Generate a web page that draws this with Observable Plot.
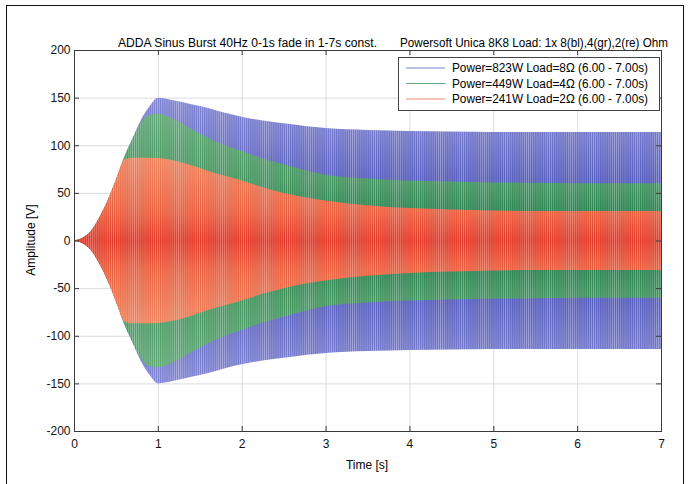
<!DOCTYPE html>
<html><head><meta charset="utf-8">
<script src="https://cdn.jsdelivr.net/npm/d3@7"></script>
<script src="https://cdn.jsdelivr.net/npm/@observablehq/plot@0.6"></script>
<style>
body{margin:0;background:#fff;font-family:"Liberation Sans",Arial,sans-serif;}
#wrap{position:relative;width:691px;height:484px;overflow:hidden;background:#fff;}
#border{position:absolute;left:6px;top:5px;width:676px;height:500px;border:1.5px solid #111;}
#chart{position:absolute;left:0;top:0;}
.ov{position:absolute;left:0;top:0;}
</style></head><body>
<svg width="0" height="0" style="position:absolute">
  <defs>
    <linearGradient id="gb" gradientUnits="userSpaceOnUse" x1="0" y1="0" x2="0" y2="484">
      <stop offset="0.20" stop-color="#8387d4"/>
      <stop offset="0.28" stop-color="#7277ca"/>
      <stop offset="0.38" stop-color="#555bbc"/>
      <stop offset="0.61" stop-color="#555bbc"/>
      <stop offset="0.715" stop-color="#7277ca"/>
      <stop offset="0.79" stop-color="#8387d4"/>
    </linearGradient>
    <linearGradient id="gg" gradientUnits="userSpaceOnUse" x1="0" y1="0" x2="0" y2="484">
      <stop offset="0.24" stop-color="#62a977"/>
      <stop offset="0.378" stop-color="#44955f"/>
      <stop offset="0.436" stop-color="#2b8453"/>
      <stop offset="0.558" stop-color="#2b8453"/>
      <stop offset="0.616" stop-color="#44955f"/>
      <stop offset="0.756" stop-color="#62a977"/>
    </linearGradient>
    <linearGradient id="gr" gradientUnits="userSpaceOnUse" x1="0" y1="0" x2="0" y2="484">
      <stop offset="0.32" stop-color="#ee8862"/>
      <stop offset="0.436" stop-color="#eb6343"/>
      <stop offset="0.497" stop-color="#e43c2b"/>
      <stop offset="0.558" stop-color="#eb6343"/>
      <stop offset="0.674" stop-color="#ee8862"/>
    </linearGradient>
    <pattern id="pb" patternUnits="userSpaceOnUse" patternContentUnits="userSpaceOnUse" width="2.096" height="484">
      <rect width="2.096" height="484" fill="url(#gb)"/>
      <rect width="0.7" height="484" fill="#fff" fill-opacity="0.35"/>
    </pattern>
    <pattern id="pg" patternUnits="userSpaceOnUse" patternContentUnits="userSpaceOnUse" width="2.096" height="484">
      <rect width="2.096" height="484" fill="url(#gg)"/>
      <rect width="0.7" height="484" fill="#fff" fill-opacity="0.33"/>
    </pattern>
    <pattern id="pr" patternUnits="userSpaceOnUse" patternContentUnits="userSpaceOnUse" width="2.096" height="484">
      <rect width="2.096" height="484" fill="url(#gr)"/>
      <rect width="0.7" height="484" fill="#fff" fill-opacity="0.28"/>
    </pattern>
  </defs>
</svg>
<div id="wrap">
  <div id="border"></div>
  <div id="chart"></div>
  <svg class="ov" width="691" height="484" id="over"></svg>
</div>
<script>
// Envelope (peak amplitude, V)
const times    = [0, 0.1, 0.2, 0.3, 0.4, 0.5, 0.6, 0.7, 0.8, 0.9, 1.0, 1.2, 1.4, 1.6, 1.8, 2.0, 2.25, 2.5, 3.0, 3.5, 4.0, 4.5, 5.0, 5.5, 6.0, 6.5, 7.0];
const blueEnv  = [0, 3, 10, 24, 42, 64, 88, 108, 127, 141, 150, 147, 143, 139, 134, 130, 126, 123, 118, 116, 115, 114.5, 114, 114, 114, 114, 114];
const greenEnv = [0, 3, 10, 24, 42, 64, 88, 107, 124, 132, 133, 127, 117, 108, 100, 94, 86, 80, 69, 65, 63, 62, 61, 60.5, 60, 60, 60];
const redEnv   = [0, 3, 10, 24, 42, 64, 85, 87, 87, 87, 86.5, 84, 79, 73, 68, 63, 56, 50, 42, 37, 34, 32.5, 31.5, 31, 31, 31, 31];

const xTicks = [0, 1, 2, 3, 4, 5, 6, 7];
const yTicks = [-200, -150, -100, -50, 0, 50, 100, 150, 200];

const seriesNames = ["Power=823W Load=8\u03A9 (6.00 - 7.00s)", "Power=449W Load=4\u03A9 (6.00 - 7.00s)", "Power=241W Load=2\u03A9 (6.00 - 7.00s)"];
const seriesLine  = ["#7f82cc", "#6aa877", "#ee8a6c"];
const titleLeft  = "ADDA Sinus Burst 40Hz 0-1s fade in 1-7s const.";
const titleRight = "Powersoft Unica 8K8 Load: 1x 8(bl),4(gr),2(re) Ohm";

const rows = env => times.map((t, i) => ({t, lo: -env[i], hi: env[i]}));

const W = 691, H = 484, mL = 74, mR = 30, mT = 50, mB = 53;
const innerW = W - mL - mR, innerH = H - mT - mB;
const axisCol = "#3a3a3a";

const chart = Plot.plot({
  width: W, height: H,
  marginLeft: mL, marginRight: mR, marginTop: mT, marginBottom: mB,
  style: {fontFamily: "'Liberation Sans', Arial, sans-serif", fontSize: "12px", color: "#111", background: "transparent"},
  x: {domain: [0, 7]},
  y: {domain: [-200, 200]},
  marks: [
    Plot.gridX(xTicks, {stroke: "#dcdcdc", strokeOpacity: 1}),
    Plot.gridY(yTicks, {stroke: "#dcdcdc", strokeOpacity: 1}),
    Plot.areaY(rows(blueEnv),  {x: "t", y1: "lo", y2: "hi", fill: "url(#pb)", curve: "monotone-x"}),
    Plot.areaY(rows(greenEnv), {x: "t", y1: "lo", y2: "hi", fill: "url(#pg)", curve: "monotone-x"}),
    Plot.areaY(rows(redEnv),   {x: "t", y1: "lo", y2: "hi", fill: "url(#pr)", curve: "monotone-x"}),
    Plot.ruleX(xTicks, {insetTop: innerH - 5, stroke: axisCol}),
    Plot.ruleX(xTicks, {insetBottom: innerH - 5, stroke: axisCol}),
    Plot.ruleY(yTicks, {insetRight: innerW - 5, stroke: axisCol}),
    Plot.ruleY(yTicks, {insetLeft: innerW - 5, stroke: axisCol}),
    Plot.frame({stroke: axisCol}),
    Plot.axisX(xTicks, {tickSize: 0, tickPadding: 8, label: null, tickFormat: d => String(d), fontSize: 12}),
    Plot.axisY(yTicks, {tickSize: 0, tickPadding: 4, label: null, tickFormat: d => String(d), fontSize: 12})
  ]
});
document.getElementById("chart").appendChild(chart);

// Titles, axis labels and legend
const over = d3.select("#over");
over.append("text").attr("x", 118).attr("y", 47).attr("font-size", 12)
  .attr("textLength", 259).attr("lengthAdjust", "spacingAndGlyphs").text(titleLeft);
over.append("text").attr("x", 400).attr("y", 47).attr("font-size", 12)
  .attr("textLength", 268).attr("lengthAdjust", "spacingAndGlyphs").text(titleRight);
over.append("text").attr("x", 367).attr("y", 469).attr("font-size", 12)
  .attr("text-anchor", "middle").text("Time [s]");
over.append("text").attr("transform", "translate(35,240) rotate(-90)").attr("font-size", 12)
  .attr("text-anchor", "middle").text("Amplitude [V]");

const lg = over.append("g");
lg.append("rect").attr("x", 398.5).attr("y", 57.5).attr("width", 261).attr("height", 53)
  .attr("fill", "#fff").attr("stroke", "#444");
seriesNames.forEach((name, i) => {
  const y = 68 + i * 15.5;
  lg.append("line").attr("x1", 406).attr("x2", 445).attr("y1", y).attr("y2", y)
    .attr("stroke", seriesLine[i]).attr("stroke-width", 1);
  lg.append("text").attr("x", 452).attr("y", y + 4).attr("font-size", 12)
    .attr("textLength", 196).attr("lengthAdjust", "spacingAndGlyphs").text(name);
});
</script>
</body></html>
